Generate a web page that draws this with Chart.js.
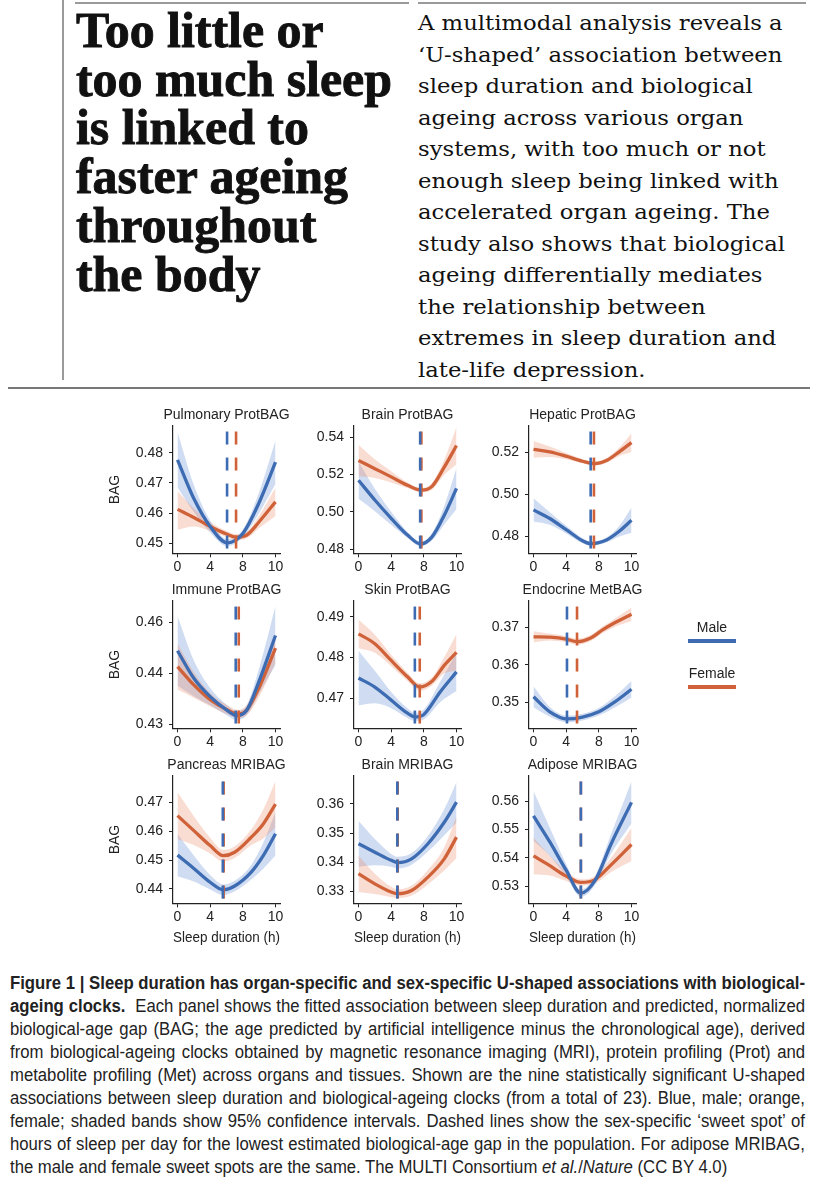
<!DOCTYPE html>
<html>
<head>
<meta charset="utf-8">
<script src="https://cdn.jsdelivr.net/npm/chart.js@4.4.1/dist/chart.umd.min.js"></script>
<style>
  body { margin: 0; background: #fff; width: 817px; height: 1200px; position: relative; overflow: hidden; color: #111; }
  .rule { position: absolute; background: #9a9a9a; }
  #headline { position: absolute; left: 76px; top: 6px; font: bold 50px/48.7px "Liberation Serif", serif; -webkit-text-stroke: 0.9px #111; transform-origin: 0 0; white-space: nowrap; }
  #standfirst { position: absolute; left: 418px; top: 8px; font: 21px/31.5px "DejaVu Serif", serif; transform-origin: 0 0; white-space: nowrap; }
  #caption { position: absolute; left: 10px; top: 972px; font: 17.5px/23px "Liberation Sans Narrow", "Liberation Sans", sans-serif; color: #222; transform-origin: 0 0; }
  #caption .cl { white-space: nowrap; }
  #caption.fit .cl { white-space: normal; text-align: justify; text-align-last: justify; }
  #caption.fit .cl.last { text-align-last: left; }
  .panel { position: absolute; width: 243px; }
  .lg { position: absolute; font: 14px "Liberation Sans", Arial, sans-serif; color: #222; text-align: center; width: 48px; left: 688px; }
  .lgline { position: absolute; left: 688px; width: 48px; height: 3.5px; }
</style>
</head>
<body>

<div class="rule" style="left:62px;top:0;width:1.5px;height:380px;"></div>
<div class="rule" style="left:75px;top:2px;width:334px;height:1.5px;"></div>
<div class="rule" style="left:418px;top:2px;width:388px;height:1.5px;"></div>
<div class="rule" style="left:8px;top:387px;width:802px;height:2px;background:#777;"></div>

<div id="headline">Too little or<br><span id="hlRef">too much sleep</span><br>is linked to<br>faster ageing<br>throughout<br>the body</div>

<div id="standfirst"><span>A multimodal analysis reveals a</span><br><span>‘U-shaped’ association between</span><br><span>sleep duration and biological</span><br><span>ageing across various organ</span><br><span>systems, with too much or not</span><br><span>enough sleep being linked with</span><br><span>accelerated organ ageing. The</span><br><span>study also shows that biological</span><br><span>ageing differentially mediates</span><br><span>the relationship between</span><br><span>extremes in sleep duration and</span><br><span>late-life depression.</span></div>

<div class="panel" style="left:105px;top:407px;height:171px;"><canvas id="c0"></canvas></div>
<div class="panel" style="left:286px;top:407px;height:171px;"><canvas id="c1"></canvas></div>
<div class="panel" style="left:461px;top:407px;height:171px;"><canvas id="c2"></canvas></div>
<div class="panel" style="left:105px;top:582px;height:171px;"><canvas id="c3"></canvas></div>
<div class="panel" style="left:286px;top:582px;height:171px;"><canvas id="c4"></canvas></div>
<div class="panel" style="left:461px;top:582px;height:171px;"><canvas id="c5"></canvas></div>
<div class="panel" style="left:105px;top:757px;height:190px;"><canvas id="c6"></canvas></div>
<div class="panel" style="left:286px;top:757px;height:190px;"><canvas id="c7"></canvas></div>
<div class="panel" style="left:461px;top:757px;height:190px;"><canvas id="c8"></canvas></div>

<div class="lg" style="top:619px;">Male</div>
<div class="lgline" style="top:639px;background:#3d6cb3;"></div>
<div class="lg" style="top:665px;">Female</div>
<div class="lgline" style="top:685px;background:#d0623a;"></div>

<div id="caption">
  <div class="cl"><span><b>Figure 1 | Sleep duration has organ-specific and sex-specific U-shaped associations with biological-</b></span></div>
  <div class="cl"><span><b>ageing clocks.</b>&nbsp;&nbsp;Each panel shows the fitted association between sleep duration and predicted, normalized</span></div>
  <div class="cl"><span>biological-age gap (BAG; the age predicted by artificial intelligence minus the chronological age), derived</span></div>
  <div class="cl"><span>from biological-ageing clocks obtained by magnetic resonance imaging (MRI), protein profiling (Prot) and</span></div>
  <div class="cl"><span>metabolite profiling (Met) across organs and tissues. Shown are the nine statistically significant U-shaped</span></div>
  <div class="cl"><span>associations between sleep duration and biological-ageing clocks (from a total of 23). Blue, male; orange,</span></div>
  <div class="cl"><span>female; shaded bands show 95% confidence intervals. Dashed lines show the sex-specific ‘sweet spot’ of</span></div>
  <div class="cl"><span>hours of sleep per day for the lowest estimated biological-age gap in the population. For adipose MRIBAG,</span></div>
  <div class="cl last"><span>the male and female sweet spots are the same. The MULTI Consortium <i>et al.</i>/<i>Nature</i> (CC BY 4.0)</span></div>
</div>

<script>
// x axis: ticks are evenly spaced in the figure, labelled 0, 4, 8, 10
const sleepTicks = [0, 4, 8, 12];
const sleepTickLabels = ["0", "4", "8", "10"];

// Pulmonary ProtBAG
const pulmonaryMaleX = [0, 2, 4, 6.1, 8, 10, 12];
const pulmonaryMale = [0.4777, 0.4648, 0.4555, 0.4501, 0.4532, 0.4635, 0.4769];
const pulmonaryMaleLow = [0.4685, 0.4603, 0.4535, 0.4489, 0.4519, 0.4600, 0.4697];
const pulmonaryMaleHigh = [0.4869, 0.4693, 0.4575, 0.4513, 0.4545, 0.4670, 0.4841];
const pulmonaryFemaleX = [0, 2, 4, 6, 7.2, 8.5, 10, 12];
const pulmonaryFemale = [0.4612, 0.4585, 0.4555, 0.4530, 0.4520, 0.4527, 0.4571, 0.4637];
const pulmonaryFemaleLow = [0.4544, 0.4555, 0.4540, 0.4520, 0.4510, 0.4516, 0.4550, 0.4590];
const pulmonaryFemaleHigh = [0.4672, 0.4615, 0.4570, 0.4540, 0.4530, 0.4538, 0.4592, 0.4684];
const pulmonarySweetSpot = [6.07, 7.17];
const pulmonaryTicks = [0.45, 0.46, 0.47, 0.48];

// Brain ProtBAG
const brainProtMaleX = [0, 2, 4, 6, 7.6, 9, 10.5, 12];
const brainProtMale = [0.5170, 0.5064, 0.4966, 0.4876, 0.4828, 0.4866, 0.4982, 0.5126];
const brainProtMaleLow = [0.5070, 0.5004, 0.4931, 0.4860, 0.4816, 0.4846, 0.4932, 0.5016];
const brainProtMaleHigh = [0.5270, 0.5124, 0.5001, 0.4892, 0.4840, 0.4886, 0.5032, 0.5236];
const brainProtFemaleX = [0, 2, 4, 6, 7.7, 9, 10.5, 12];
const brainProtFemale = [0.5276, 0.5232, 0.5188, 0.5143, 0.5117, 0.5137, 0.5240, 0.5356];
const brainProtFemaleLow = [0.5191, 0.5182, 0.5158, 0.5128, 0.5105, 0.5119, 0.5200, 0.5256];
const brainProtFemaleHigh = [0.5361, 0.5282, 0.5218, 0.5158, 0.5129, 0.5155, 0.5280, 0.5456];
const brainProtSweetSpot = [7.55, 7.7];
const brainProtTicks = [0.48, 0.50, 0.52, 0.54];

// Hepatic ProtBAG
const hepaticMaleX = [0, 2, 4, 6, 7.0, 9, 10.5, 12];
const hepaticMale = [0.4926, 0.4885, 0.4832, 0.4779, 0.4765, 0.4784, 0.4824, 0.4877];
const hepaticMaleLow = [0.4871, 0.4855, 0.4814, 0.4767, 0.4755, 0.4772, 0.4799, 0.4817];
const hepaticMaleHigh = [0.4981, 0.4915, 0.4850, 0.4791, 0.4775, 0.4796, 0.4849, 0.4937];
const hepaticFemaleX = [0, 2, 4, 6, 7.4, 9, 10.5, 12];
const hepaticFemale = [0.5215, 0.5203, 0.5182, 0.5158, 0.5147, 0.5163, 0.5203, 0.5247];
const hepaticFemaleLow = [0.5175, 0.5178, 0.5167, 0.5148, 0.5137, 0.5151, 0.5183, 0.5202];
const hepaticFemaleHigh = [0.5255, 0.5228, 0.5197, 0.5168, 0.5157, 0.5175, 0.5223, 0.5292];
const hepaticSweetSpot = [7.0, 7.4];
const hepaticTicks = [0.48, 0.50, 0.52];

// Immune ProtBAG (top tick is printed as 0.46 in the figure)
const immuneMaleX = [0, 2, 4, 6, 7.2, 8.5, 10, 12];
const immuneMale = [0.4444, 0.4390, 0.4354, 0.4328, 0.4317, 0.4328, 0.4385, 0.4474];
const immuneMaleLow = [0.4376, 0.4355, 0.4337, 0.4318, 0.4308, 0.4318, 0.4360, 0.4416];
const immuneMaleHigh = [0.4512, 0.4425, 0.4371, 0.4338, 0.4326, 0.4338, 0.4410, 0.4532];
const immuneFemaleX = [0, 2, 4, 6, 7.5, 8.5, 10, 12];
const immuneFemale = [0.4413, 0.4377, 0.4348, 0.4329, 0.4320, 0.4328, 0.4372, 0.4449];
const immuneFemaleLow = [0.4368, 0.4352, 0.4335, 0.4320, 0.4312, 0.4318, 0.4354, 0.4421];
const immuneFemaleHigh = [0.4458, 0.4402, 0.4361, 0.4338, 0.4328, 0.4338, 0.4390, 0.4477];
const immuneSweetSpot = [7.13, 7.5];
const immuneTicks = [0.43, 0.44, 0.45];
const immuneTickLabels = ["0.43", "0.44", "0.46"];

// Skin ProtBAG
const skinMaleX = [0, 2, 4, 6, 6.9, 8, 10, 12];
const skinMale = [0.4750, 0.4728, 0.4696, 0.4664, 0.4655, 0.4661, 0.4716, 0.4765];
const skinMaleLow = [0.4683, 0.4688, 0.4676, 0.4652, 0.4645, 0.4649, 0.4691, 0.4718];
const skinMaleHigh = [0.4817, 0.4768, 0.4716, 0.4676, 0.4665, 0.4673, 0.4741, 0.4812];
const skinFemaleX = [0, 2, 4, 6, 7.5, 9, 10.5, 12];
const skinFemale = [0.4858, 0.4834, 0.4793, 0.4753, 0.4728, 0.4742, 0.4781, 0.4813];
const skinFemaleLow = [0.4823, 0.4812, 0.4779, 0.4743, 0.4719, 0.4732, 0.4761, 0.4768];
const skinFemaleHigh = [0.4893, 0.4856, 0.4807, 0.4763, 0.4737, 0.4752, 0.4801, 0.4858];
const skinSweetSpot = [6.9, 7.5];
const skinTicks = [0.47, 0.48, 0.49];

// Endocrine MetBAG
const endocrineMaleX = [0, 2, 4.1, 6, 8, 10, 12];
const endocrineMale = [0.3515, 0.3475, 0.3456, 0.3461, 0.3475, 0.3502, 0.3535];
const endocrineMaleLow = [0.3487, 0.3462, 0.3447, 0.3452, 0.3465, 0.3487, 0.3513];
const endocrineMaleHigh = [0.3543, 0.3488, 0.3465, 0.3470, 0.3485, 0.3517, 0.3557];
const endocrineFemaleX = [0, 2, 4, 5.3, 7, 8.5, 10, 12];
const endocrineFemale = [0.3675, 0.3674, 0.3669, 0.3662, 0.3672, 0.3694, 0.3713, 0.3735];
const endocrineFemaleLow = [0.3660, 0.3665, 0.3661, 0.3654, 0.3664, 0.3685, 0.3702, 0.3717];
const endocrineFemaleHigh = [0.3690, 0.3683, 0.3677, 0.3670, 0.3680, 0.3703, 0.3724, 0.3753];
const endocrineSweetSpot = [4.1, 5.33];
const endocrineTicks = [0.35, 0.36, 0.37];

// Pancreas MRIBAG
const pancreasMaleX = [0, 2, 4, 5.6, 7, 9, 10.5, 12];
const pancreasMale = [0.4517, 0.4471, 0.4423, 0.4397, 0.4410, 0.4457, 0.4515, 0.4591];
const pancreasMaleLow = [0.4444, 0.4426, 0.4398, 0.4379, 0.4392, 0.4432, 0.4470, 0.4516];
const pancreasMaleHigh = [0.4590, 0.4516, 0.4448, 0.4415, 0.4428, 0.4482, 0.4560, 0.4666];
const pancreasFemaleX = [0, 2, 4, 5.6, 7, 9, 10.5, 12];
const pancreasFemale = [0.4654, 0.4602, 0.4550, 0.4515, 0.4527, 0.4578, 0.4625, 0.4694];
const pancreasFemaleLow = [0.4573, 0.4552, 0.4523, 0.4495, 0.4507, 0.4551, 0.4575, 0.4614];
const pancreasFemaleHigh = [0.4735, 0.4652, 0.4577, 0.4535, 0.4547, 0.4605, 0.4675, 0.4774];
const pancreasSweetSpot = [5.55, 5.65];
const pancreasTicks = [0.44, 0.45, 0.46, 0.47];

// Brain MRIBAG
const brainMriMaleX = [0, 2, 4, 4.8, 6.5, 8.5, 10.5, 12];
const brainMriMale = [0.3463, 0.3434, 0.3406, 0.3398, 0.3411, 0.3463, 0.3537, 0.3606];
const brainMriMaleLow = [0.3384, 0.3389, 0.3384, 0.3378, 0.3391, 0.3436, 0.3492, 0.3536];
const brainMriMaleHigh = [0.3542, 0.3479, 0.3428, 0.3418, 0.3431, 0.3490, 0.3582, 0.3676];
const brainMriFemaleX = [0, 2, 4, 4.8, 6.5, 8.5, 10.5, 12];
const brainMriFemale = [0.3360, 0.3325, 0.3297, 0.3291, 0.3302, 0.3348, 0.3411, 0.3486];
const brainMriFemaleLow = [0.3297, 0.3290, 0.3279, 0.3276, 0.3285, 0.3323, 0.3371, 0.3414];
const brainMriFemaleHigh = [0.3423, 0.3360, 0.3315, 0.3306, 0.3319, 0.3373, 0.3451, 0.3558];
const brainMriSweetSpot = [4.75, 4.8];
const brainMriTicks = [0.33, 0.34, 0.35, 0.36];

// Adipose MRIBAG
const adiposeMaleX = [0, 2, 4, 5.8, 7.5, 9.5, 12];
const adiposeMale = [0.5548, 0.5456, 0.5356, 0.5275, 0.5318, 0.5449, 0.5596];
const adiposeMaleLow = [0.5460, 0.5406, 0.5334, 0.5262, 0.5302, 0.5414, 0.5521];
const adiposeMaleHigh = [0.5636, 0.5506, 0.5378, 0.5288, 0.5334, 0.5484, 0.5671];
const adiposeFemaleX = [0, 2, 4, 5.8, 7.5, 9.5, 12];
const adiposeFemale = [0.5407, 0.5372, 0.5335, 0.5313, 0.5322, 0.5375, 0.5447];
const adiposeFemaleLow = [0.5342, 0.5337, 0.5318, 0.5302, 0.5309, 0.5350, 0.5389];
const adiposeFemaleHigh = [0.5472, 0.5407, 0.5352, 0.5324, 0.5335, 0.5400, 0.5505];
const adiposeSweetSpot = [5.8, 5.8];
const adiposeTicks = [0.53, 0.54, 0.55, 0.56];

const MALE = "#3d6cb3";
const FEMALE = "#d0623a";
const MALE_BAND = "rgba(110, 150, 212, 0.33)";
const FEMALE_BAND = "rgba(236, 140, 105, 0.30)";
const FONT = "'Liberation Sans', Arial, sans-serif";

// panel title, centred over the plotting area (ggplot style)
const panelTitle = {
  id: "panelTitle",
  afterDraw(chart, args, opts) {
    const { ctx, chartArea } = chart;
    ctx.save();
    ctx.font = "14px " + FONT;
    ctx.fillStyle = "#222";
    ctx.textAlign = "center";
    ctx.textBaseline = "middle";
    ctx.fillText(opts.text, (chartArea.left + chartArea.right) / 2, 8.6);
    ctx.restore();
  },
};

function pts(xs, ys) {
  return xs.map((x, i) => ({ x: x, y: ys[i] }));
}

// one panel = bands + fitted lines + dashed sweet-spot lines
function drawPanel(canvasId, p) {
  const ctx = document.getElementById(canvasId);
  const yMin = p.range[0];
  const yMax = p.range[1];
  const dashTop = yMax - 0.045 * (yMax - yMin);
  const topPad = 18.8;
  const plotH = 127.5;
  const boxH = ctx.parentNode.clientHeight;
  const xAxisH = boxH - topPad - plotH;

  const curve = {
    pointRadius: 0,
    cubicInterpolationMode: "monotone",
  };

  new Chart(ctx, {
    type: "line",
    plugins: [panelTitle],
    data: {
      datasets: [
        { ...curve, data: pts(p.maleX, p.maleLow), borderWidth: 0, fill: false, order: 10 },
        { ...curve, data: pts(p.maleX, p.maleHigh), borderWidth: 0, fill: "-1", backgroundColor: MALE_BAND, order: 10 },
        { ...curve, data: pts(p.femaleX, p.femaleLow), borderWidth: 0, fill: false, order: 9 },
        { ...curve, data: pts(p.femaleX, p.femaleHigh), borderWidth: 0, fill: "-1", backgroundColor: FEMALE_BAND, order: 9 },
        { ...curve, data: pts(p.femaleX, p.female), borderColor: FEMALE, borderWidth: 3.3, fill: false, order: 4 },
        { ...curve, data: pts(p.maleX, p.male), borderColor: MALE, borderWidth: 3.3, fill: false, order: 3 },
        {
          data: [{ x: p.sweet[1], y: dashTop }, { x: p.sweet[1], y: yMin }],
          borderColor: FEMALE, borderWidth: 2.6, borderDash: [13, 13], pointRadius: 0, fill: false, order: 2,
        },
        {
          data: [{ x: p.sweet[0], y: dashTop }, { x: p.sweet[0], y: yMin }],
          borderColor: MALE, borderWidth: 2.6, borderDash: [13, 13], pointRadius: 0, fill: false, order: 1,
        },
      ],
    },
    options: {
      responsive: true,
      maintainAspectRatio: false,
      animation: false,
      events: [],
      layout: { padding: { left: 0, right: 68, top: topPad, bottom: 0 } },
      scales: {
        x: {
          type: "linear",
          min: -0.55,
          max: 12.55,
          afterBuildTicks: (axis) => { axis.ticks = sleepTicks.map((v) => ({ value: v })); },
          afterFit: (axis) => { axis.height = xAxisH; },
          ticks: {
            callback: (v) => sleepTickLabels[sleepTicks.indexOf(v)],
            font: { family: FONT, size: 14 },
            color: "#222",
            padding: 1,
            maxRotation: 0,
          },
          grid: { drawOnChartArea: false, drawTicks: true, tickLength: 4, color: "#222" },
          border: { display: true, color: "#222", width: 1.2 },
          title: {
            display: p.xTitle,
            text: "Sleep duration (h)",
            font: { family: FONT, size: 14 },
            color: "#222",
            padding: { top: 0, bottom: 0 },
          },
        },
        y: {
          type: "linear",
          min: yMin,
          max: yMax,
          afterBuildTicks: (axis) => { axis.ticks = p.ticks.map((v) => ({ value: v })); },
          afterFit: (axis) => { axis.width = 68; },
          ticks: {
            callback: (v) => (p.tickLabels ? p.tickLabels[p.ticks.indexOf(v)] : v.toFixed(2)),
            font: { family: FONT, size: 14 },
            color: "#222",
            padding: 6,
          },
          grid: { drawOnChartArea: false, drawTicks: true, tickLength: 4, color: "#222" },
          border: { display: true, color: "#222", width: 1.2 },
          title: {
            display: p.yTitle,
            text: "BAG",
            font: { family: FONT, size: 14 },
            color: "#222",
            padding: { top: 1.5, bottom: 0 },
          },
        },
      },
      plugins: {
        legend: { display: false },
        tooltip: { enabled: false },
        title: { display: false },
        panelTitle: { text: p.title },
      },
    },
  });
}

drawPanel("c0", {
  title: "Pulmonary ProtBAG", range: [0.4466, 0.4890], ticks: pulmonaryTicks, yTitle: true, xTitle: false,
  maleX: pulmonaryMaleX, male: pulmonaryMale, maleLow: pulmonaryMaleLow, maleHigh: pulmonaryMaleHigh,
  femaleX: pulmonaryFemaleX, female: pulmonaryFemale, femaleLow: pulmonaryFemaleLow, femaleHigh: pulmonaryFemaleHigh,
  sweet: pulmonarySweetSpot,
});
drawPanel("c1", {
  title: "Brain ProtBAG", range: [0.4778, 0.5462], ticks: brainProtTicks, yTitle: false, xTitle: false,
  maleX: brainProtMaleX, male: brainProtMale, maleLow: brainProtMaleLow, maleHigh: brainProtMaleHigh,
  femaleX: brainProtFemaleX, female: brainProtFemale, femaleLow: brainProtFemaleLow, femaleHigh: brainProtFemaleHigh,
  sweet: brainProtSweetSpot,
});
drawPanel("c2", {
  title: "Hepatic ProtBAG", range: [0.4719, 0.5327], ticks: hepaticTicks, yTitle: false, xTitle: false,
  maleX: hepaticMaleX, male: hepaticMale, maleLow: hepaticMaleLow, maleHigh: hepaticMaleHigh,
  femaleX: hepaticFemaleX, female: hepaticFemale, femaleLow: hepaticFemaleLow, femaleHigh: hepaticFemaleHigh,
  sweet: hepaticSweetSpot,
});
drawPanel("c3", {
  title: "Immune ProtBAG", range: [0.4292, 0.4542], ticks: immuneTicks, tickLabels: immuneTickLabels, yTitle: true, xTitle: false,
  maleX: immuneMaleX, male: immuneMale, maleLow: immuneMaleLow, maleHigh: immuneMaleHigh,
  femaleX: immuneFemaleX, female: immuneFemale, femaleLow: immuneFemaleLow, femaleHigh: immuneFemaleHigh,
  sweet: immuneSweetSpot,
});
drawPanel("c4", {
  title: "Skin ProtBAG", range: [0.4627, 0.4939], ticks: skinTicks, yTitle: false, xTitle: false,
  maleX: skinMaleX, male: skinMale, maleLow: skinMaleLow, maleHigh: skinMaleHigh,
  femaleX: skinFemaleX, female: skinFemale, femaleLow: skinFemaleLow, femaleHigh: skinFemaleHigh,
  sweet: skinSweetSpot,
});
drawPanel("c5", {
  title: "Endocrine MetBAG", range: [0.3431, 0.3771], ticks: endocrineTicks, yTitle: false, xTitle: false,
  maleX: endocrineMaleX, male: endocrineMale, maleLow: endocrineMaleLow, maleHigh: endocrineMaleHigh,
  femaleX: endocrineFemaleX, female: endocrineFemale, femaleLow: endocrineFemaleLow, femaleHigh: endocrineFemaleHigh,
  sweet: endocrineSweetSpot,
});
drawPanel("c6", {
  title: "Pancreas MRIBAG", range: [0.4350, 0.4792], ticks: pancreasTicks, yTitle: true, xTitle: true,
  maleX: pancreasMaleX, male: pancreasMale, maleLow: pancreasMaleLow, maleHigh: pancreasMaleHigh,
  femaleX: pancreasFemaleX, female: pancreasFemale, femaleLow: pancreasFemaleLow, femaleHigh: pancreasFemaleHigh,
  sweet: pancreasSweetSpot,
});
drawPanel("c7", {
  title: "Brain MRIBAG", range: [0.3258, 0.3697], ticks: brainMriTicks, yTitle: false, xTitle: true,
  maleX: brainMriMaleX, male: brainMriMale, maleLow: brainMriMaleLow, maleHigh: brainMriMaleHigh,
  femaleX: brainMriFemaleX, female: brainMriFemale, femaleLow: brainMriFemaleLow, femaleHigh: brainMriFemaleHigh,
  sweet: brainMriSweetSpot,
});
drawPanel("c8", {
  title: "Adipose MRIBAG", range: [0.5239, 0.5690], ticks: adiposeTicks, yTitle: false, xTitle: true,
  maleX: adiposeMaleX, male: adiposeMale, maleLow: adiposeMaleLow, maleHigh: adiposeMaleHigh,
  femaleX: adiposeFemaleX, female: adiposeFemale, femaleLow: adiposeFemaleLow, femaleHigh: adiposeFemaleHigh,
  sweet: adiposeSweetSpot,
});

// squeeze the text blocks to the widths they have in the figure
function fitWidth(el, natural, target) {
  el.style.transform = "scaleX(" + (target / natural) + ")";
}
const headline = document.getElementById("headline");
fitWidth(headline, document.getElementById("hlRef").getBoundingClientRect().width, 316);

const standfirst = document.getElementById("standfirst");
let sfMax = 0;
standfirst.querySelectorAll("span").forEach((s) => { sfMax = Math.max(sfMax, s.getBoundingClientRect().width); });
fitWidth(standfirst, sfMax, 367);

const caption = document.getElementById("caption");
let capMax = 0;
caption.querySelectorAll(".cl span").forEach((s) => { capMax = Math.max(capMax, s.getBoundingClientRect().width); });
caption.style.width = (capMax + 1) + "px";
caption.classList.add("fit");
fitWidth(caption, capMax + 1, 795);
</script>
</body>
</html>
